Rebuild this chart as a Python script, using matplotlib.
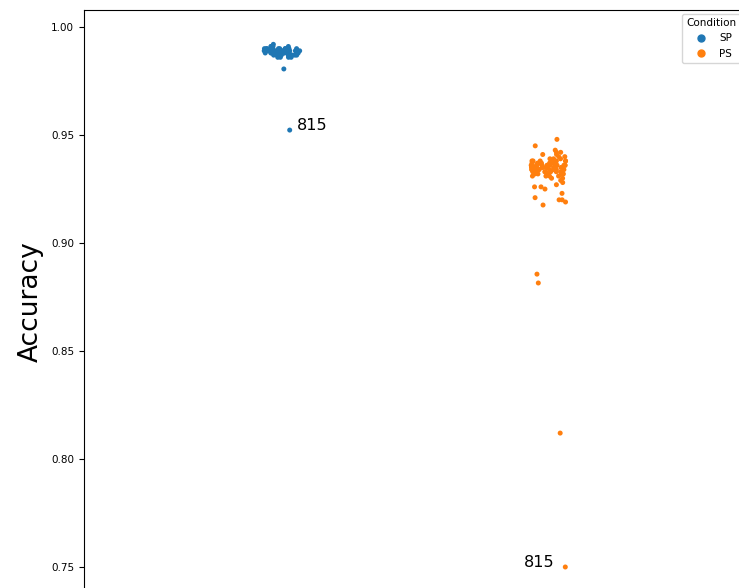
import numpy as np
import pandas as pd
import matplotlib
matplotlib.use('Agg')
import matplotlib.pyplot as plt
import seaborn as sns
from matplotlib.lines import Line2D

conditions = ['SP', 'PS']
colors = ['#1f77b4', '#ff7f0e']

sp_acc = [0.9806, 0.9523,
          0.989, 0.988, 0.990, 0.987, 0.989, 0.991, 0.988, 0.989, 0.990, 0.987,
          0.988, 0.989, 0.986, 0.990, 0.989, 0.988, 0.991, 0.987, 0.989, 0.988,
          0.990, 0.989, 0.988, 0.987, 0.989, 0.990, 0.986, 0.988, 0.989, 0.991,
          0.988, 0.987, 0.989, 0.990, 0.988, 0.989, 0.987, 0.988, 0.990, 0.989,
          0.992, 0.988, 0.986, 0.989, 0.990, 0.988, 0.987, 0.989, 0.991, 0.988,
          0.989, 0.990, 0.987, 0.988, 0.989, 0.986, 0.988, 0.990, 0.989, 0.987]

ps_acc = [0.935, 0.933, 0.937, 0.931, 0.936, 0.934, 0.938, 0.932, 0.935, 0.939,
          0.933, 0.936, 0.930, 0.934, 0.937, 0.935, 0.932, 0.938, 0.934, 0.936,
          0.933, 0.940, 0.935, 0.931, 0.937, 0.934, 0.936, 0.933, 0.938, 0.935,
          0.929, 0.936, 0.934, 0.932, 0.937, 0.935, 0.939, 0.933, 0.936, 0.934,
          0.931, 0.938, 0.935, 0.937, 0.933, 0.936, 0.934, 0.940, 0.932, 0.935,
          0.937, 0.934, 0.936, 0.930, 0.938, 0.935, 0.933, 0.936, 0.934, 0.941,
          0.935, 0.932, 0.937, 0.934, 0.936, 0.933, 0.938, 0.935, 0.931, 0.936,
          0.934, 0.939, 0.933, 0.937, 0.935, 0.928, 0.936, 0.934, 0.932, 0.938,
          0.948, 0.945, 0.943, 0.942, 0.942, 0.941, 0.927, 0.926, 0.926, 0.925,
          0.923, 0.921, 0.920, 0.920, 0.919, 0.9176, 0.8856, 0.8815, 0.812, 0.750]

# labelled outliers: (condition, value, label)
outliers = [('SP', 0.9523, '815'), ('PS', 0.750, '815')]

df = pd.DataFrame({
    'Condition': ['SP'] * len(sp_acc) + ['PS'] * len(ps_acc),
    'Accuracy': sp_acc + ps_acc,
})

np.random.seed(3)
fig = plt.figure(figsize=(7.39, 5.88), dpi=100)
# axes run past the bottom and right edges of the figure, as in the crop
ax = fig.add_axes([0.1137, -0.12, 0.9363, 1.103])

sns.stripplot(data=df, x='Condition', y='Accuracy', hue='Condition',
              order=conditions, hue_order=conditions, palette=colors,
              jitter=0.07, size=3.6, linewidth=0, legend=False, ax=ax)

ax.set_xlim(-0.744, 1.857)
ax.set_ylim(0.7076, 1.0079)
ax.set_yticks([0.75, 0.80, 0.85, 0.90, 0.95, 1.00])
ax.tick_params(axis='y', labelsize=7.5)
ax.tick_params(axis='x', bottom=False, labelbottom=False)
ax.set_ylabel('Accuracy', fontsize=19)
ax.yaxis.set_label_coords(-0.058, 0.55)
ax.set_xlabel('')

# annotate the labelled points at their jittered positions
for cond, val, lab in outliers:
    coll = ax.collections[conditions.index(cond)]
    pts = coll.get_offsets()
    i = np.argmin(np.abs(pts[:, 1] - val))
    x, y = pts[i]
    if cond == 'SP':
        ax.annotate(lab, (x, y), xytext=(5, 0), textcoords='offset points',
                    ha='left', va='baseline', fontsize=11.5)
    else:
        ax.annotate(lab, (x, y), xytext=(-8, 0), textcoords='offset points',
                    ha='right', va='baseline', fontsize=11.5)

handles = [Line2D([], [], marker='o', linestyle='', color=c, markersize=5)
           for c in colors]
fig.legend(handles, conditions, title='Condition', loc='upper left',
           bbox_to_anchor=(682 / 739, 1 - 14 / 588), fontsize=7.5,
           title_fontsize=7.5, borderaxespad=0, framealpha=0.8)

fig.savefig('out.png', dpi=100)
